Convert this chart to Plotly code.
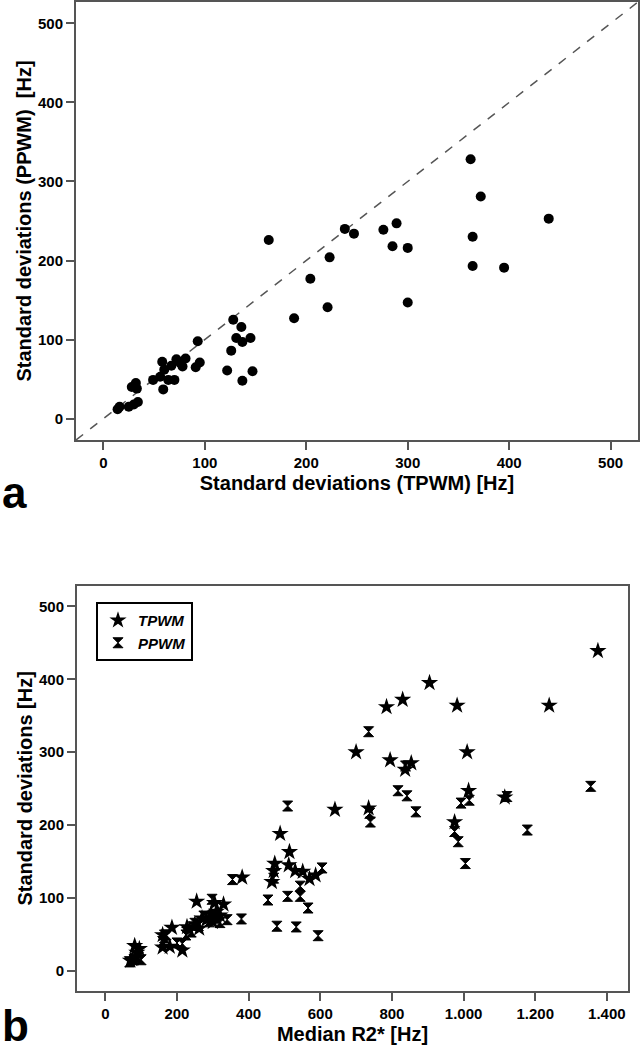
import plotly.graph_objects as go

# ---------- Panel a : SD TPWM vs SD PPWM ----------
sd_tpwm_a = [14, 16, 25, 30, 34, 28, 32, 33, 49, 56, 59, 58, 60, 64, 70, 67, 72, 76, 78, 81,
             91, 95, 93, 122, 126, 128, 131, 136, 137, 137, 145, 147, 188, 163, 204, 221, 223,
             238, 247, 276, 289, 285, 300, 300, 362, 364, 364, 372, 395, 439]
sd_ppwm_a = [12, 15, 15, 18, 21, 40, 45, 38, 49, 53, 37, 72, 62, 49, 49, 67, 75, 70, 66, 76,
             65, 71, 98, 61, 86, 125, 102, 116, 97, 48, 102, 60, 127, 226, 177, 141, 204,
             240, 234, 239, 247, 218, 216, 147, 328, 230, 193, 281, 191, 253]

# ---------- Panel b : median R2* vs SD ----------
r2_tpwm = [70, 75, 88, 95, 82, 215, 160, 180, 160, 235, 186, 262, 228, 250, 282, 300, 270, 320,
           295, 310, 330, 255, 305, 465, 570, 382, 587, 551, 470, 530, 512, 473, 488, 514,
           975, 641, 735, 1115, 1014, 837, 854, 795, 700, 1010, 785, 982, 1239, 830, 905, 1375]
sd_tpwm_b = [14, 16, 25, 30, 34, 28, 32, 33, 49, 56, 59, 58, 60, 64, 70, 67, 72, 76, 78, 81,
             91, 95, 93, 122, 126, 128, 131, 136, 137, 137, 145, 147, 188, 163,
             204, 221, 223, 238, 247, 276, 285, 289, 300, 300, 362, 364, 364, 372, 395, 439]
r2_ppwm = [68, 80, 100, 92, 85, 160, 165, 200, 170, 240, 215, 310, 260, 165, 225, 290, 275, 340,
           320, 300, 250, 380, 298, 479, 566, 355, 509, 544, 454, 594, 544, 533, 470,
           509, 985, 605, 740, 842, 1016, 1121, 817, 867, 738, 1005, 735, 993, 1178, 838, 975, 1355]
sd_ppwm_b = [12, 15, 15, 18, 21, 40, 45, 38, 49, 53, 37, 72, 62, 49, 49, 67, 75, 70, 66, 76,
             65, 71, 98, 61, 86, 125, 102, 116, 97, 48, 102, 60, 127,
             226, 177, 141, 204, 240, 234, 239, 247, 218, 216, 147, 328, 230, 193, 281, 191, 253]

# axes
range_a = [-27, 527]
ticks_a = [0, 100, 200, 300, 400, 500]
xrange_b = [-79, 1459]
yrange_b = [-27.5, 528]
xticks_b = [0, 200, 400, 600, 800, 1000, 1200, 1400]
xticklabels_b = ["0", "200", "400", "600", "800", "1.000", "1.200", "1.400"]
yticks_b = [0, 100, 200, 300, 400, 500]

FONT = "Liberation Sans, Arial, sans-serif"
AX = "#555555"

fig = go.Figure()

# identity line (y = x) across panel a
fig.add_trace(go.Scatter(x=range_a, y=range_a, mode="lines", xaxis="x", yaxis="y",
                         line=dict(color="#555555", width=1.5, dash="dash"),
                         showlegend=False, hoverinfo="skip"))
fig.add_trace(go.Scatter(x=sd_tpwm_a, y=sd_ppwm_a, mode="markers", xaxis="x", yaxis="y",
                         marker=dict(symbol="circle", size=10, color="black"),
                         showlegend=False))

fig.add_trace(go.Scatter(x=r2_tpwm, y=sd_tpwm_b, mode="markers", xaxis="x2", yaxis="y2",
                         name="<b><i>TPWM</i></b>",
                         marker=dict(symbol="star", size=13, color="black",
                                     line=dict(width=0))))
fig.add_trace(go.Scatter(x=r2_ppwm, y=sd_ppwm_b, mode="markers", xaxis="x2", yaxis="y2",
                         name="<b><i>PPWM</i></b>",
                         marker=dict(symbol="hourglass", size=10, color="black",
                                     line=dict(width=1, color="black"))))

W, H = 641, 1050
def px_x(v):
    return v / W
def px_y(v):
    return 1 - v / H

axis_common = dict(showgrid=False, zeroline=False, showline=True, mirror=True,
                   linecolor=AX, linewidth=2, ticks="outside", ticklen=8, tickwidth=2,
                   tickcolor=AX,
                   tickfont=dict(family=FONT, size=15, color="black", weight="bold"))

title_font = dict(family=FONT, size=20, color="black", weight="bold")

fig.update_layout(
    width=W, height=H,
    margin=dict(l=0, r=0, t=0, b=0),
    paper_bgcolor="white", plot_bgcolor="white",
    xaxis=dict(domain=[px_x(76), px_x(638)], range=range_a, tickvals=ticks_a,
               title=dict(text="Standard deviations (TPWM) [Hz]", font=title_font, standoff=6),
               anchor="y", **axis_common),
    yaxis=dict(domain=[px_y(440), px_y(2)], range=range_a, tickvals=ticks_a,
               title=dict(text="Standard deviations (PPWM)  [Hz]", font=title_font, standoff=1),
               anchor="x", **axis_common),
    xaxis2=dict(domain=[px_x(77), px_x(628)], range=xrange_b, tickvals=xticks_b,
                ticktext=xticklabels_b,
                title=dict(text="Median R2* [Hz]", font=title_font, standoff=6),
                anchor="y2", **axis_common),
    yaxis2=dict(domain=[px_y(990.7), px_y(586)], range=yrange_b, tickvals=yticks_b,
                title=dict(text="Standard deviations [Hz]", font=title_font, standoff=1),
                anchor="x2", **axis_common),
    legend=dict(x=px_x(96), y=px_y(602), xanchor="left", yanchor="top",
                bordercolor="black", borderwidth=2, bgcolor="white",
                font=dict(family=FONT, size=15, color="black"),
                itemwidth=30, tracegroupgap=0),
    annotations=[
        dict(text="<b>a</b>", x=0.0, y=px_y(492), xref="paper", yref="paper",
             xanchor="left", yanchor="middle", showarrow=False,
             font=dict(family=FONT, size=44, color="black")),
        dict(text="<b>b</b>", x=0.0, y=px_y(1025), xref="paper", yref="paper",
             xanchor="left", yanchor="middle", showarrow=False,
             font=dict(family=FONT, size=44, color="black")),
    ],
)

fig.write_html("out.html", config={"displayModeBar": False},
               post_script="document.body.style.margin='0';document.body.style.overflow='hidden';")
